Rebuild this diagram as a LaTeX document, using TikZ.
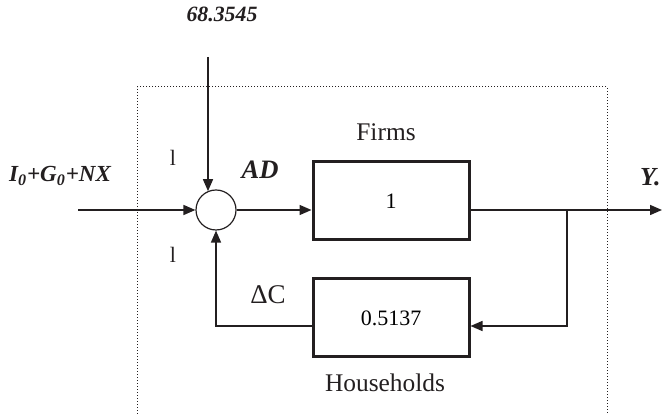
\documentclass[tikz,border=0pt]{standalone}
\usepackage{fontspec}
\setmainfont{Liberation Serif}
\usetikzlibrary{arrows.meta}
\definecolor{ink}{HTML}{231F20}

\begin{document}
\begin{tikzpicture}[x=0.5pt,y=-0.5pt,>={Triangle[length=6pt,width=5pt]},
  wire/.style={ink,line width=0.75pt},
  block/.style={draw=ink,line width=1.5pt,minimum width=78pt,minimum height=39pt,
    inner sep=0pt,font=\fontsize{11}{13}\selectfont},
  sum/.style={circle,draw=ink,line width=0.6pt,minimum size=20pt,inner sep=0pt},
  lab/.style={ink,inner sep=0pt,font=\fontsize{12.7}{15}\selectfont},
  var/.style={ink,inner sep=0pt,font=\fontsize{11.5}{14}\selectfont\bfseries\itshape}]
  \useasboundingbox (0,0) rectangle (662,415);

  % boundary of the economy
  \draw[ink,densely dotted,line width=0.5pt] (607,440) -- (607,87) -- (137,87) -- (137,440);

  % blocks
  \node[sum] (add) at (216,210) {};
  \node[block] (firms) at (391,201) {1};
  \node[block] (hh) at (391,318) {0.5137};

  \coordinate (in) at (78,210);
  \coordinate (shockin) at (208,57);
  \coordinate (out) at (662,210);
  \coordinate (split) at (567,210);

  % connectors
  \draw[wire,->] (in) -- (add.west);
  \draw[wire,->] (shockin) -- (shockin |- add.114);
  \draw[wire,->] (add.east) -- (firms.west |- add.east);
  \draw[wire,->] (firms.east |- add.east) -- (out);
  \draw[wire,->] (split) |- ([yshift=-4pt]hh.east);
  \draw[wire,->] ([yshift=-4pt]hh.west) -| (add.south);

  % labels
  \node[var,font=\fontsize{10.9}{13}\selectfont\bfseries\itshape] (shock) at (222,14) {68.3545};
  \node[var] (inlab) at (60,176) {I\textsubscript{0}+G\textsubscript{0}+NX};
  \node[var,font=\fontsize{13.3}{16}\selectfont\bfseries\itshape] (adlab) at (260,170) {AD};
  \node[var,font=\fontsize{13}{16}\selectfont\bfseries\itshape,anchor=east] (ylab) at (661,177) {Y.};
  \node[lab] (firmslab) at (386,132) {Firms};
  \node[lab] (hhlab) at (385,383) {Households};
  \node[lab,font=\fontsize{13.5}{16}\selectfont] (dclab) at (268,295) {ΔC};
  \node[lab,font=\fontsize{11}{13}\selectfont] (signa) at (173,158) {l};
  \node[lab,font=\fontsize{11}{13}\selectfont] (signb) at (173,255) {l};

\end{tikzpicture}
\end{document}
